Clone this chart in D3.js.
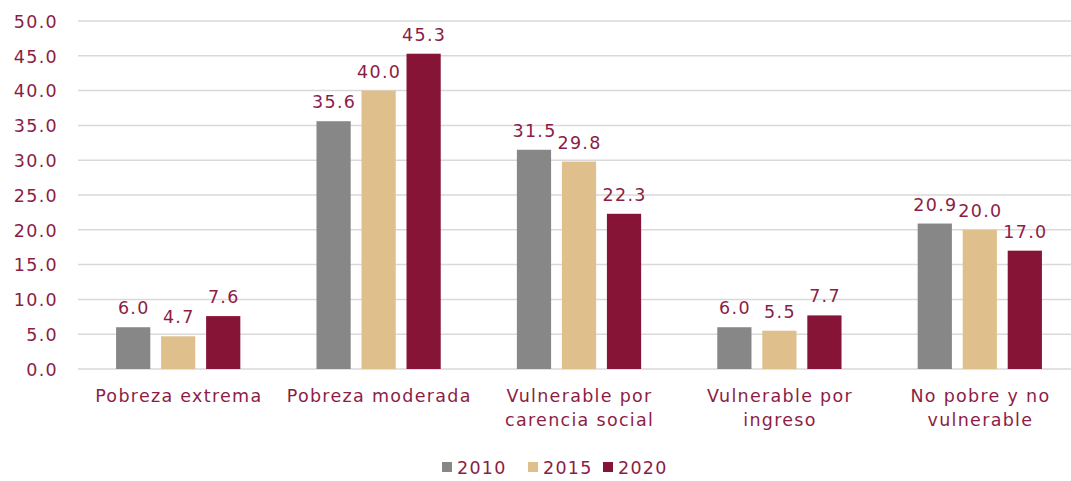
<!DOCTYPE html>
<html><head><meta charset="utf-8">
<script src="https://cdn.jsdelivr.net/npm/d3@7"></script>
<style>
html,body{margin:0;padding:0;background:#fff;}
svg{display:block;}
text{font-family:"DejaVu Sans",sans-serif;font-size:17.5px;letter-spacing:1.3px;}
</style></head>
<body>
<svg id="chart" width="1071" height="481"></svg>
<script>
const categories = [
  ["Pobreza extrema"],
  ["Pobreza moderada"],
  ["Vulnerable por", "carencia social"],
  ["Vulnerable por", "ingreso"],
  ["No pobre y no", "vulnerable"]
];
const seriesNames = ["2010", "2015", "2020"];
const values2010 = [6.0, 35.6, 31.5, 6.0, 20.9];
const values2015 = [4.7, 40.0, 29.8, 5.5, 20.0];
const values2020 = [7.6, 45.3, 22.3, 7.7, 17.0];
const yTicks = [0, 5, 10, 15, 20, 25, 30, 35, 40, 45, 50];

const seriesValues = [values2010, values2015, values2020];
const colors = ["#878787", "#dfc08d", "#861436"];
const textColor = "#8c1d45";

const svg = d3.select("#chart");
const mLeft = 78, mRight = 1080, mTop = 21, mBottom = 369;

const x0 = d3.scaleBand().domain(d3.range(categories.length)).range([mLeft, mRight]).paddingInner(0.38).paddingOuter(0.19);
const x1 = d3.scaleBand().domain(d3.range(seriesNames.length)).range([0, x0.bandwidth()]).paddingInner(0.24);
const y = d3.scaleLinear().domain([0, 50]).range([mBottom, mTop]);

// gridlines
svg.append("g").selectAll("line").data(yTicks).join("line")
  .attr("x1", mLeft).attr("x2", 1071)
  .attr("y1", d => y(d)).attr("y2", d => y(d))
  .attr("stroke", "#d9d9d9").attr("stroke-width", 1.5);

// y axis labels
const yAxis = d3.axisLeft(y).tickValues(yTicks).tickFormat(d3.format(".1f")).tickSize(0).tickPadding(0);
const ya = svg.append("g").attr("transform", `translate(58,0)`).call(yAxis);
ya.select(".domain").remove();
ya.attr("font-family", null).attr("font-size", null);
ya.selectAll("text").attr("fill", textColor).attr("dy", "0.36em");

// bars
const groups = svg.append("g").selectAll("g").data(categories).join("g")
  .attr("transform", (d, i) => `translate(${x0(i)},0)`);

groups.each(function(d, ci) {
  const g = d3.select(this);
  seriesValues.forEach((vals, si) => {
    const v = vals[ci];
    g.append("rect")
      .attr("x", x1(si)).attr("width", x1.bandwidth())
      .attr("y", y(v)).attr("height", y(0) - y(v))
      .attr("fill", colors[si]);
    g.append("text")
      .attr("x", x1(si) + x1.bandwidth() / 2 + 0.6)
      .attr("y", y(v) - 13)
      .attr("text-anchor", "middle")
      .attr("fill", textColor)
      .text(d3.format(".1f")(v));
  });
});

// category labels
const cl = svg.append("g").selectAll("text").data(categories).join("text")
  .attr("text-anchor", "middle")
  .attr("fill", textColor)
  .attr("transform", (d, i) => `translate(${x0(i) + x0.bandwidth() / 2 + 0.6},402)`);
cl.each(function(lines) {
  d3.select(this).selectAll("tspan").data(lines).join("tspan")
    .attr("x", 0).attr("dy", (l, j) => j === 0 ? 0 : 24).text(l => l);
});

// legend
const legendX = [442, 528, 603];
const lg = svg.append("g").selectAll("g").data(seriesNames).join("g")
  .attr("transform", (d, i) => `translate(${legendX[i]},462)`);
lg.append("rect").attr("width", 10).attr("height", 10).attr("fill", (d, i) => colors[i]);
lg.append("text").attr("x", 15).attr("y", 12).attr("fill", textColor).text(d => d);
</script>
</body></html>
